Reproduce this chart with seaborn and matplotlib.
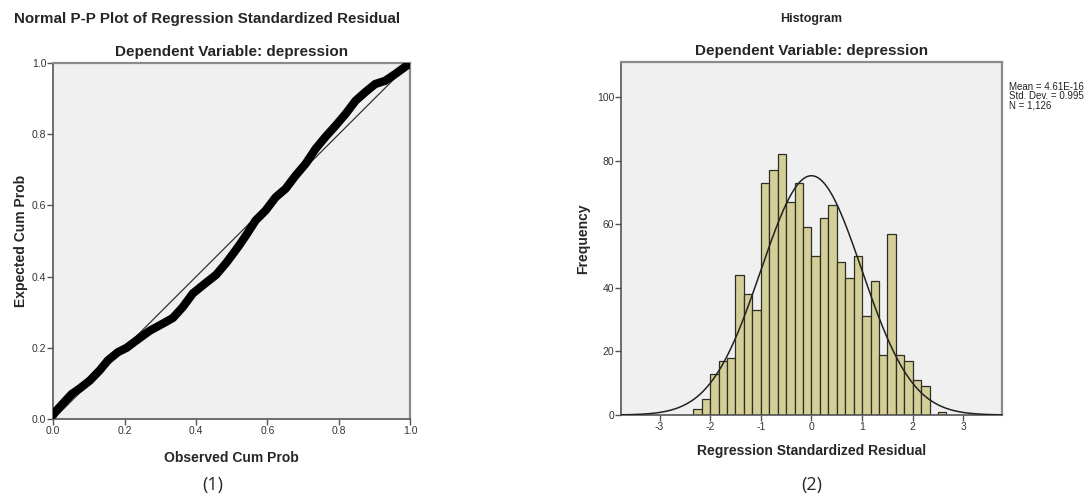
import numpy as np
import pandas as pd
import matplotlib
matplotlib.use("Agg")
import matplotlib.pyplot as plt
import seaborn as sns

# ---- P-P plot data (observed cum prob, expected cum prob)
pp_observed = [0.0, 0.005, 0.028, 0.051, 0.074, 0.102, 0.130, 0.153, 0.181, 0.205,
               0.233, 0.270, 0.312, 0.335, 0.363, 0.391, 0.428, 0.456, 0.484, 0.502,
               0.521, 0.540, 0.567, 0.595, 0.623, 0.651, 0.679, 0.707, 0.735, 0.763,
               0.791, 0.819, 0.847, 0.874, 0.902, 0.930, 0.958, 0.991, 1.0]
pp_expected = [0.012, 0.020, 0.045, 0.070, 0.086, 0.108, 0.137, 0.165, 0.188, 0.200,
               0.221, 0.248, 0.271, 0.284, 0.315, 0.353, 0.383, 0.405, 0.438, 0.462,
               0.488, 0.516, 0.558, 0.586, 0.623, 0.647, 0.684, 0.717, 0.759, 0.793,
               0.824, 0.857, 0.894, 0.918, 0.941, 0.950, 0.969, 0.993, 1.0]
pp_ticks = [0.0, 0.2, 0.4, 0.6, 0.8, 1.0]

# ---- Histogram data
bin_width = 1 / 6
bin_start_index = -14
hist_counts = [2, 5, 13, 17, 18, 44, 38, 33, 73, 77, 82, 67, 73, 59, 50,
               62, 66, 48, 43, 50, 31, 42, 19, 57, 19, 17, 11, 9, 0, 1]
res_mean = 4.61e-16
res_sd = 0.995
res_n = 1126
hist_xticks = [-3, -2, -1, 0, 1, 2, 3]
hist_yticks = [0, 20, 40, 60, 80, 100]

sns.set_theme(style="white")
plt.rcParams['font.family'] = ['Liberation Sans', 'DejaVu Sans']
plt.rcParams['axes.unicode_minus'] = False

fig = plt.figure(figsize=(10.88, 4.96), dpi=100)
face = "#F0F0F0"
spine_dark = "#555555"
spine_light = "#8A8A8A"

def style_axes(ax):
    ax.set_facecolor(face)
    for s in ["top", "right"]:
        ax.spines[s].set_color(spine_light)
        ax.spines[s].set_linewidth(1.6)
    for s in ["left", "bottom"]:
        ax.spines[s].set_color(spine_dark)
        ax.spines[s].set_linewidth(1.2)
    ax.tick_params(axis="both", which="both", direction="out", length=4, width=1,
                   color=spine_dark, labelsize=7.5, labelcolor="#333333", pad=1,
                   left=True, bottom=True, top=False, right=False)

# ---- Left: P-P plot
ax1 = fig.add_axes([0.049, 0.155, 0.328, 0.718])
style_axes(ax1)
ax1.plot([0, 1], [0, 1], color="#333333", lw=0.9, zorder=2)
pp_df = pd.DataFrame({"observed": pp_observed, "expected": pp_expected})
sns.lineplot(data=pp_df, x="observed", y="expected", ax=ax1, color="black",
             lw=6.0, solid_capstyle="round", solid_joinstyle="round", sort=False, zorder=3)
ax1.set_xlim(0, 1)
ax1.set_ylim(0, 1)
ax1.set_xticks(pp_ticks)
ax1.set_yticks(pp_ticks)
ax1.set_xticklabels([f"{t:.1f}" for t in pp_ticks])
ax1.set_yticklabels([f"{t:.1f}" for t in pp_ticks])
ax1.set_xlabel("Observed Cum Prob", fontsize=10, fontweight="bold", labelpad=11)
ax1.set_ylabel("Expected Cum Prob", fontsize=10, fontweight="bold", labelpad=3)
ax1.set_title("Dependent Variable: depression", fontsize=11, fontweight="bold", pad=5)
fig.text(14 / 1088, 1 - 19 / 496, "Normal P-P Plot of Regression Standardized Residual",
         fontsize=10.9, fontweight="bold", ha="left", va="center")
fig.text(213 / 1088, 1 - 485 / 496, "(1)", fontsize=13, family=["Open Sans", "DejaVu Sans"],
         ha="center", va="center")

# ---- Right: Histogram
ax2 = fig.add_axes([0.5708, 0.1633, 0.350, 0.7117])
style_axes(ax2)
edges = [(bin_start_index + i) * bin_width for i in range(len(hist_counts) + 1)]
centers = [(edges[i] + edges[i + 1]) / 2 for i in range(len(hist_counts))]
hist_df = pd.DataFrame({"residual": centers, "count": hist_counts})
sns.histplot(data=hist_df, x="residual", weights="count", bins=edges, ax=ax2,
             color="#D4CF99", edgecolor="#2E2E22", linewidth=0.9, alpha=1.0, zorder=2)
xs = np.linspace(-3.8, 3.8, 400)
ys = res_n * bin_width * np.exp(-0.5 * ((xs - res_mean) / res_sd) ** 2) / (res_sd * np.sqrt(2 * np.pi))
ax2.plot(xs, ys, color="#222222", lw=1.1, zorder=3)
ax2.set_xlim(-3.76, 3.76)
ax2.set_ylim(0, 111)
ax2.set_xticks(hist_xticks)
ax2.set_yticks(hist_yticks)
ax2.set_xlabel("Regression Standardized Residual", fontsize=10, fontweight="bold", labelpad=9)
ax2.set_ylabel("Frequency", fontsize=10, fontweight="bold", labelpad=5)
ax2.set_title("Dependent Variable: depression", fontsize=11, fontweight="bold", pad=5)
fig.text(811 / 1088, 1 - 19 / 496, "Histogram", fontsize=9, fontweight="bold",
         ha="center", va="center")
fig.text(1009 / 1088, 1 - 82 / 496,
         f"Mean = 4.61E-16\nStd. Dev. = {res_sd:.3f}\nN = 1,126",
         fontsize=7, ha="left", va="top", color="#222222", linespacing=0.92)
fig.text(812 / 1088, 1 - 485 / 496, "(2)", fontsize=13, family=["Open Sans", "DejaVu Sans"],
         ha="center", va="center")

fig.savefig("out.png", dpi=100)
